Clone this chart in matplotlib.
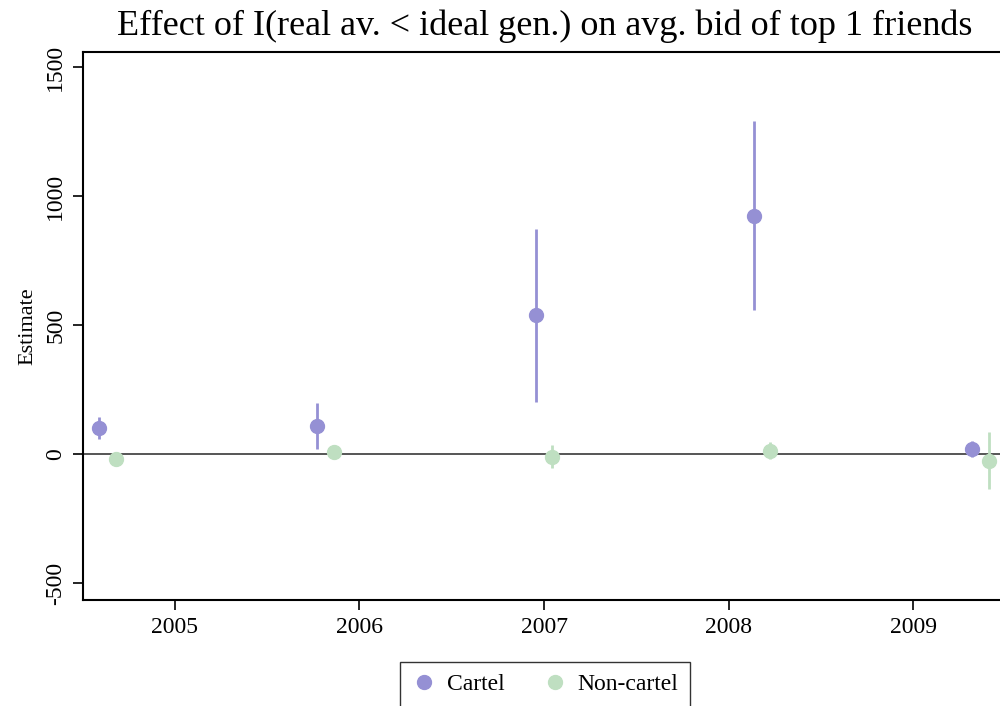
import matplotlib
matplotlib.use("Agg")
import matplotlib.pyplot as plt

# values
cartel_x = [2004.59, 2005.77, 2006.955, 2008.135, 2009.32]
cartel_est = [103, 110, 541, 924, 21]
cartel_lo = [60, 21, 203, 560, -10]
cartel_hi = [145, 200, 874, 1293, 52]

noncartel_x = [2004.68, 2005.865, 2007.045, 2008.225, 2009.41]
noncartel_est = [-16, 10, -8, 15, -25]
noncartel_lo = [-30, 0, -52, -17, -134]
noncartel_hi = [-2, 20, 37, 48, 87]

years = [2005, 2006, 2007, 2008, 2009]
yticks = [-500, 0, 500, 1000, 1500]

c_cartel = "#9590d4"
c_non = "#bfdfc1"

plt.rcParams["font.family"] = ["Liberation Serif", "DejaVu Serif"]

fig = plt.figure(figsize=(10, 7.06), dpi=100)
# axes extends past the right border like the reference crop
ax = fig.add_axes([0.083, 1 - 600 / 706, 0.93, (600 - 52) / 706])

ax.axhline(0, color="#555555", lw=1.4, zorder=1)

ax.vlines(cartel_x, cartel_lo, cartel_hi, color=c_cartel, lw=2, zorder=2)
ax.plot(cartel_x, cartel_est, "o", color=c_cartel, ms=10, zorder=3, label="Cartel")
ax.vlines(noncartel_x, noncartel_lo, noncartel_hi, color=c_non, lw=2, zorder=2)
ax.plot(noncartel_x, noncartel_est, "o", color=c_non, ms=10, zorder=3, label="Non-cartel")

ax.set_xlim(2004.503, 2009.54)
ax.set_ylim(-564, 1560)
ax.set_xticks(years)
ax.set_xticklabels([str(y) for y in years], fontsize=17)
ax.set_yticks(yticks)
ax.set_yticklabels([str(v) for v in yticks], fontsize=17, rotation=90, va="center")
ax.tick_params(axis="both", length=7, width=1.2, color="black", pad=5)
for s in ax.spines.values():
    s.set_linewidth(1.5)
ax.set_ylabel("Estimate", fontsize=16, labelpad=6)

fig.text(0.545, 0.963, "Effect of I(real av. < ideal gen.) on avg. bid of top 1 friends",
         ha="center", va="center", fontsize=26)

fig.legend(loc="upper center", bbox_to_anchor=(0.545, 0.063), ncol=2, fontsize=17,
           frameon=True, fancybox=False, edgecolor="black", handletextpad=0.4,
           columnspacing=1.6, borderpad=0.5, borderaxespad=0, handlelength=1.1)

fig.savefig("out.png", dpi=100)
